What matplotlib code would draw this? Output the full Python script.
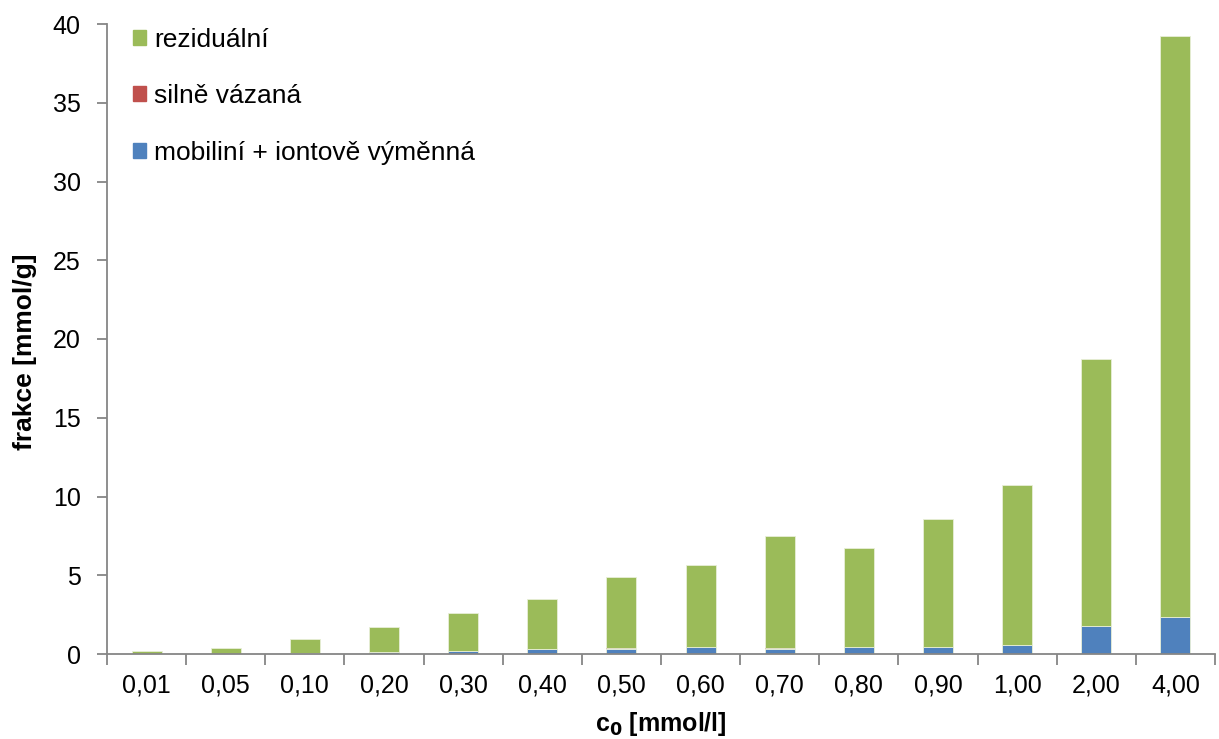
import numpy as np
import matplotlib
matplotlib.use("Agg")
import matplotlib.pyplot as plt
from matplotlib.patches import Patch
from matplotlib.ticker import FixedLocator

plt.rcParams['font.family'] = ['Liberation Sans', 'DejaVu Sans']

# data
koncentrace = ['0,01', '0,05', '0,10', '0,20', '0,30', '0,40', '0,50',
               '0,60', '0,70', '0,80', '0,90', '1,00', '2,00', '4,00']
celkem = [0.17, 0.38, 0.97, 1.71, 2.62, 3.51, 4.91,
          5.65, 7.49, 6.75, 8.57, 10.71, 18.73, 39.26]
mobilni = [0.01, 0.02, 0.04, 0.10, 0.20, 0.30, 0.34,
           0.42, 0.34, 0.44, 0.44, 0.55, 1.76, 2.37]
silne = [0.0, 0.0, 0.0, 0.01, 0.01, 0.01, 0.01,
         -0.02, 0.06, 0.01, 0.03, -0.02, -0.10, -0.10]

mob = np.array(mobilni)
sil = np.array(silne)
rezidualni = np.array(celkem) - mob - np.clip(sil, 0, None)

zelena = '#9BBB59'
cervena = '#C0504D'
modra = '#4F81BD'

fig = plt.figure(figsize=(12.19, 7.39), dpi=100)
ax = fig.add_axes([107/1219, 1 - 654/739, (1215 - 107)/1219, 630/739])

x = np.arange(len(koncentrace))
w = 0.38
ax.bar(x, mob, w, color=modra, edgecolor='#e8efd8', linewidth=0.6, zorder=2)
# kladne casti na modrou, zaporne pod nulu
sil_dole = np.where(sil >= 0, mob, 0)
ax.bar(x, sil, w, bottom=sil_dole, color=cervena, linewidth=0, zorder=2)
ax.bar(x, rezidualni, w, bottom=mob + np.clip(sil, 0, None), color=zelena,
       edgecolor='#e8efd8', linewidth=0.6, zorder=2)

ax.set_xlim(-0.5, len(koncentrace) - 0.5)
ax.set_ylim(0, 40)
ax.set_yticks(range(0, 41, 5))
ax.set_xticks(x)
ax.set_xticklabels(koncentrace)
ax.xaxis.set_minor_locator(FixedLocator(np.arange(-0.5, len(koncentrace), 1)))
ax.tick_params(axis='x', which='major', length=0, labelsize=18, pad=14, colors='black')
ax.tick_params(axis='x', which='minor', length=8, width=1.3, color='#868686')
ax.tick_params(axis='y', length=7, width=1.3, color='#868686', labelsize=18, pad=12)

for s in ['top', 'right']:
    ax.spines[s].set_visible(False)
for s in ['left', 'bottom']:
    ax.spines[s].set_color('#868686')
    ax.spines[s].set_linewidth(1.3)

ax.set_ylabel('frakce [mmol/g]', fontsize=19, fontweight='bold', va='center')
ax.yaxis.set_label_coords(-0.074, 0.479)
ax.set_xlabel('c$_\\mathbf{0}$ [mmol/l]', fontsize=18, fontweight='bold', labelpad=9)

handles = [Patch(color=zelena, label='reziduální'),
           Patch(color=cervena, label='silně vázaná'),
           Patch(color=modra, label='mobiliní + iontově výměnná')]
ax.legend(handles=handles, loc='upper left', bbox_to_anchor=(0.002, 1.032),
          frameon=False, fontsize=19, labelspacing=1.24, handlelength=0.5,
          handleheight=0.5, handletextpad=0.3)

fig.savefig('out.png', dpi=100)
